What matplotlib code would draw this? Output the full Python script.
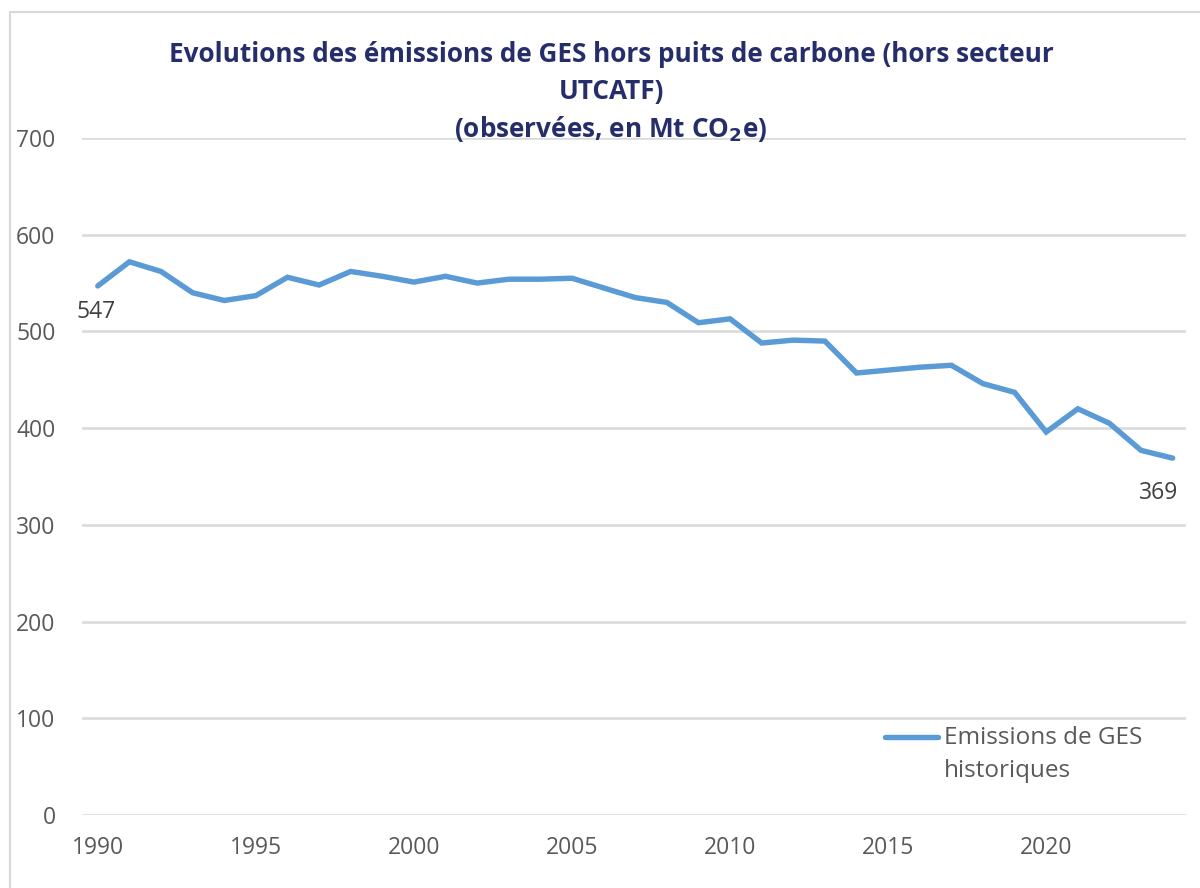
import matplotlib.pyplot as plt
from matplotlib.patches import Rectangle
from matplotlib.lines import Line2D

plt.rcParams['font.family'] = ['Open Sans', 'DejaVu Sans']

# Emissions de GES hors UTCATF, Mt CO2e
years = list(range(1990, 2025))
emissions = [547, 572, 562, 540, 532, 537, 556, 548, 562, 557,
             551, 557, 550, 554, 554, 555, 545, 535, 530, 509,
             513, 488, 491, 490, 457, 460, 463, 465, 446, 437,
             396, 420, 405, 377, 369]
x_ticks = [1990, 1995, 2000, 2005, 2010, 2015, 2020]
y_ticks = [0, 100, 200, 300, 400, 500, 600, 700]

title_color = "#262D6B"
tick_color = "#595959"
line_color = "#5B9BD5"

fig = plt.figure(figsize=(12, 8.88), dpi=100)
ax = fig.add_axes([0.0683, 0.0822, 0.92, 0.7624])

ax.plot(years, emissions, color=line_color, linewidth=3.9, solid_joinstyle="miter",
        solid_capstyle="round", zorder=3)

ax.set_xlim(1989.5, 2024.42)
ax.set_ylim(0, 700)
ax.set_xticks(x_ticks)
ax.set_yticks(y_ticks)
ax.tick_params(axis="both", length=0, labelsize=16.5, labelcolor=tick_color)
ax.tick_params(axis="y", pad=19)
ax.tick_params(axis="x", pad=15)
ax.grid(axis="y", color="#D9D9D9", linewidth=1.8, zorder=0)
for s in ax.spines.values():
    s.set_visible(False)

# data labels at first and last points
ax.annotate(str(emissions[0]), (years[0], emissions[0]), xytext=(-15, -19),
            textcoords="offset points", fontsize=16.5, color="#404040", va="center")
ax.annotate(str(emissions[-1]), (years[-1], emissions[-1]), xytext=(-24, -25),
            textcoords="offset points", fontsize=16.5, color="#404040", va="center")

# legend drawn manually to mimic the Excel layout
fig.add_artist(Line2D([885 / 1200, 938 / 1200], [1 - 737 / 888, 1 - 737 / 888],
                      color=line_color, linewidth=3.9, solid_capstyle="round"))
fig.text(944 / 1200, 1 - 738 / 888, "Emissions de GES", fontsize=17.5, color=tick_color,
         va="center", ha="left")
fig.text(944 / 1200, 1 - 771 / 888, "historiques", fontsize=17.5, color=tick_color,
         va="center", ha="left")

# title
title_kw = dict(fontsize=18.8, fontweight="bold", color=title_color, ha="center", va="center")
fig.text(611 / 1200, 1 - 55 / 888,
         "Evolutions des émissions de GES hors puits de carbone (hors secteur", **title_kw)
fig.text(611 / 1200, 1 - 91 / 888, "UTCATF)", **title_kw)
fig.text(611 / 1200, 1 - 129 / 888, "(observées, en Mt CO$_\\mathbf{2}$e)", **title_kw)

# chart area border
fig.add_artist(Rectangle((10 / 1200, -0.1), 1.2, 1.1 - 12 / 888, fill=False,
                         edgecolor="#D9D9D9", linewidth=1.5, transform=fig.transFigure))

fig.savefig("out.png", dpi=100, facecolor="white")
